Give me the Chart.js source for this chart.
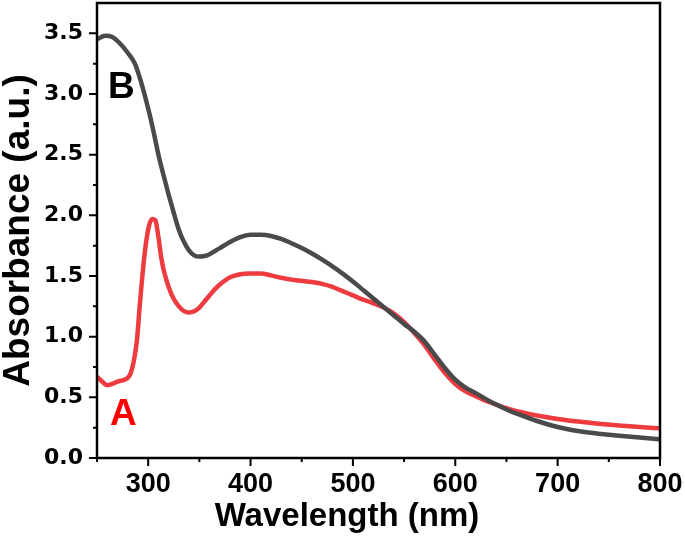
<!DOCTYPE html>
<html>
<head>
<meta charset="utf-8">
<script src="https://cdn.jsdelivr.net/npm/chart.js@4.4.1/dist/chart.umd.min.js"></script>
<style>
    html, body { margin: 0; padding: 0; background: #ffffff; }
    canvas { display: block; }
</style>
</head>
<body>
<canvas id="absorbanceChart" width="685" height="542"></canvas>
<script>

// spectrum B (grey)
const wavelengthB = [250, 258, 265, 272, 280, 287, 293, 300, 305, 310, 315, 320, 325, 330, 335, 340, 345, 350, 355, 360, 370, 380, 390, 400, 410, 420, 430, 440, 450, 460, 470, 480, 490, 500, 510, 520, 530, 540, 550, 560, 570, 580, 590, 600, 610, 620, 630, 640, 650, 660, 670, 680, 690, 700, 710, 720, 730, 740, 760, 780, 800];
const absorbanceB = [3.45, 3.48, 3.47, 3.42, 3.34, 3.25, 3.10, 2.88, 2.70, 2.50, 2.33, 2.17, 2.02, 1.88, 1.78, 1.71, 1.67, 1.66, 1.665, 1.68, 1.73, 1.78, 1.82, 1.84, 1.84, 1.83, 1.805, 1.77, 1.73, 1.685, 1.635, 1.58, 1.52, 1.455, 1.385, 1.315, 1.245, 1.175, 1.105, 1.04, 0.96, 0.85, 0.74, 0.645, 0.58, 0.535, 0.485, 0.44, 0.40, 0.365, 0.335, 0.305, 0.278, 0.255, 0.237, 0.222, 0.21, 0.20, 0.183, 0.168, 0.155];

// spectrum A (red)
const wavelengthA = [250, 255, 260, 265, 270, 275, 280, 283, 286, 289, 292, 295, 298, 301, 304, 307, 310, 313, 316, 320, 325, 330, 335, 340, 345, 350, 355, 360, 365, 370, 380, 390, 400, 410, 420, 430, 440, 450, 460, 470, 480, 490, 500, 510, 520, 530, 540, 550, 560, 570, 580, 590, 600, 610, 620, 630, 640, 650, 660, 680, 700, 720, 740, 760, 780, 800];
const absorbanceA = [0.67, 0.63, 0.60, 0.61, 0.63, 0.64, 0.66, 0.70, 0.80, 0.97, 1.28, 1.56, 1.78, 1.92, 1.97, 1.96, 1.82, 1.64, 1.52, 1.41, 1.31, 1.25, 1.21, 1.20, 1.21, 1.24, 1.29, 1.34, 1.39, 1.43, 1.49, 1.515, 1.52, 1.52, 1.505, 1.485, 1.47, 1.46, 1.45, 1.435, 1.41, 1.375, 1.34, 1.305, 1.275, 1.24, 1.19, 1.12, 1.03, 0.93, 0.81, 0.70, 0.61, 0.55, 0.51, 0.47, 0.44, 0.41, 0.385, 0.35, 0.322, 0.30, 0.282, 0.267, 0.255, 0.245];

const xLabelTicks = [300, 400, 500, 600, 700, 800];
const yLabelTicks = [0.0, 0.5, 1.0, 1.5, 2.0, 2.5, 3.0, 3.5];

// curve labels, in data units (wavelength, absorbance at text baseline)
const curveLabels = [
    { text: "B", x: 260.7, y: 2.965, color: "#000000" },
    { text: "A", x: 262.7, y: 0.27, color: "#ff0000" },
];


const toPoints = (xs, ys) => xs.map((x, i) => ({ x: x, y: ys[i] }));

const isLabelled = (value, list) => list.some((v) => Math.abs(v - value) < 1e-6);


const framePlugin = {
    id: "frame",
    afterDraw: (chart) => {

        const ctx = chart.ctx;
        const area = chart.chartArea;
        const xScale = chart.scales.x;
        const yScale = chart.scales.y;

        ctx.save();
        ctx.strokeStyle = "#000000";
        ctx.lineWidth = 2.5;
        ctx.strokeRect(area.left, area.top, area.right - area.left, area.bottom - area.top);

        // tick marks, pointing out
        ctx.lineWidth = 2;
        ctx.beginPath();
        for (const tick of xScale.ticks) {
            const px = xScale.getPixelForValue(tick.value);
            const len = isLabelled(tick.value, xLabelTicks) ? 8 : 4;
            ctx.moveTo(px, area.bottom);
            ctx.lineTo(px, area.bottom + len);
        }
        for (const tick of yScale.ticks) {
            if (tick.value > 3.6) continue;
            const py = yScale.getPixelForValue(tick.value);
            const len = isLabelled(tick.value, yLabelTicks) ? 8 : 4;
            ctx.moveTo(area.left, py);
            ctx.lineTo(area.left - len, py);
        }
        ctx.stroke();

        // curve letters
        ctx.font = "bold 37px 'Liberation Sans', Arial, sans-serif";
        ctx.textAlign = "left";
        ctx.textBaseline = "alphabetic";
        for (const label of curveLabels) {
            ctx.fillStyle = label.color;
            ctx.fillText(label.text, xScale.getPixelForValue(label.x), yScale.getPixelForValue(label.y));
        }

        // x axis title
        ctx.fillStyle = "#000000";
        ctx.font = "bold 33px 'Liberation Sans', Arial, sans-serif";
        ctx.textAlign = "center";
        ctx.fillText("Wavelength (nm)", 347, 526);

        ctx.restore();

    },
};


const drawAbsorbanceChart = () => {

    const canvas = document.getElementById("absorbanceChart");

    new Chart(canvas, {
        type: "line",
        data: {
            datasets: [
                {
                    label: "B",
                    data: toPoints(wavelengthB, absorbanceB),
                    borderColor: "#4a4a4a",
                    borderWidth: 4.5,
                    pointRadius: 0,
                    cubicInterpolationMode: "monotone",
                },
                {
                    label: "A",
                    data: toPoints(wavelengthA, absorbanceA),
                    borderColor: "#ee3b40",
                    borderWidth: 4.5,
                    pointRadius: 0,
                    cubicInterpolationMode: "monotone",
                },
            ],
        },
        options: {
            responsive: false,
            animation: false,
            devicePixelRatio: 1,
            layout: { padding: { top: 3, right: 25, left: 0, bottom: 0 } },
            plugins: {
                legend: { display: false },
                tooltip: { enabled: false },
            },
            scales: {
                x: {
                    type: "linear",
                    min: 250,
                    max: 800,
                    border: { display: false },
                    grid: { display: false, drawTicks: false },
                    ticks: {
                        stepSize: 50,
                        autoSkip: false,
                        maxRotation: 0,
                        padding: 10,
                        color: "#000000",
                        font: { family: "'Liberation Sans', Arial", size: 27, weight: "bold" },
                        callback: (value) => isLabelled(value, xLabelTicks) ? String(value) : "",
                    },
                    afterFit: (scale) => {
                        scale.height = 84;
                        scale.paddingLeft = 0;
                        scale.paddingRight = 0;
                    },
                },
                y: {
                    min: 0,
                    max: 3.75,
                    border: { display: false },
                    grid: { display: false, drawTicks: false },
                    ticks: {
                        stepSize: 0.25,
                        autoSkip: false,
                        padding: 14,
                        color: "#000000",
                        font: { family: "'DejaVu Sans', sans-serif", size: 22, weight: "bold" },
                        callback: (value) => isLabelled(value, yLabelTicks) ? value.toFixed(1) : "",
                    },
                    title: {
                        display: true,
                        text: "Absorbance (a.u.)",
                        color: "#000000",
                        padding: 0,
                        font: { family: "'Liberation Sans', Arial, sans-serif", size: 37, weight: "bold", lineHeight: 1 },
                    },
                    afterFit: (scale) => {
                        scale.width = 97;
                        scale.paddingTop = 0;
                        scale.paddingBottom = 0;
                    },
                },
            },
        },
        plugins: [framePlugin],
    });

};


drawAbsorbanceChart();

</script>
</body>
</html>
